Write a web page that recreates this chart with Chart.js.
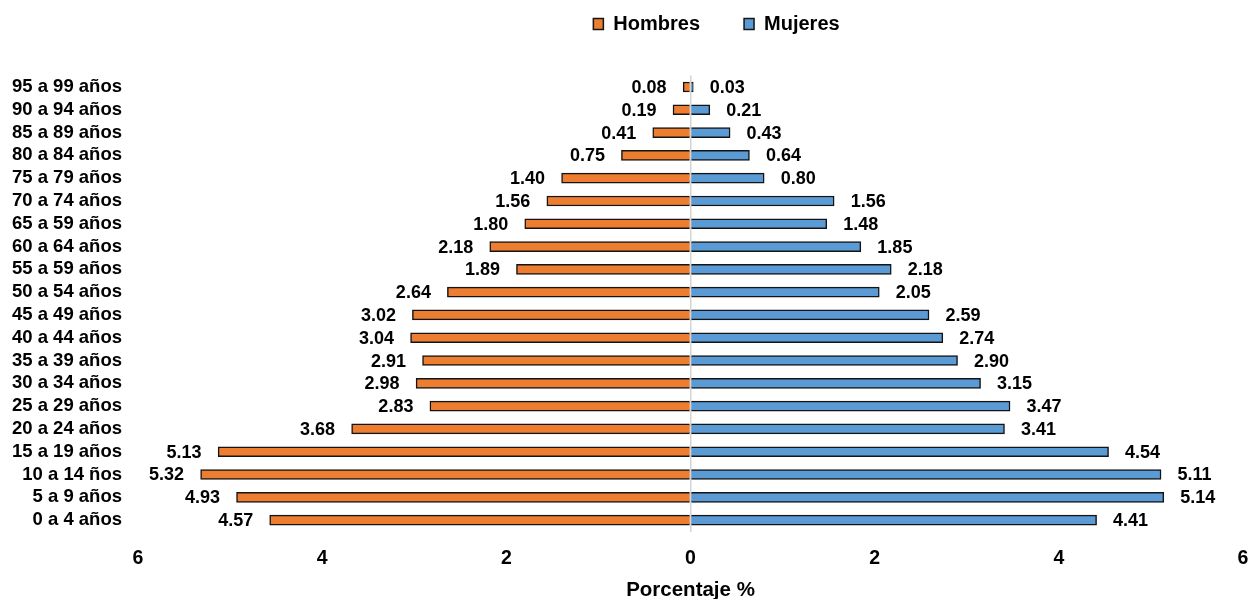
<!DOCTYPE html>
<html lang="es">
<head>
<meta charset="utf-8">
<title>Pirámide de población</title>
<script src="https://cdn.jsdelivr.net/npm/chart.js@4.4.1/dist/chart.umd.min.js"></script>
<style>
  html, body { margin: 0; padding: 0; background: #ffffff; overflow: hidden; }
  #wrap { width: 1255px; height: 599px; position: relative; }
</style>
</head>
<body>
<div id="wrap"><canvas id="chart"></canvas></div>
<script>
// Age groups, top to bottom
const grupos = [
  "95 a 99 años", "90 a 94 años", "85 a 89 años", "80 a 84 años", "75 a 79 años",
  "70 a 74 años", "65 a 59 años", "60 a 64 años", "55 a 59 años", "50 a 54 años",
  "45 a 49 años", "40 a 44 años", "35 a 39 años", "30 a 34 años", "25 a 29 años",
  "20 a 24 años", "15 a 19 años", "10 a 14 ños", "5 a 9 años", "0 a 4 años"
];

// Percentage of population per group
const hombres = [0.08, 0.19, 0.41, 0.75, 1.40, 1.56, 1.80, 2.18, 1.89, 2.64,
                 3.02, 3.04, 2.91, 2.98, 2.83, 3.68, 5.13, 5.32, 4.93, 4.57];
const mujeres = [0.03, 0.21, 0.43, 0.64, 0.80, 1.56, 1.48, 1.85, 2.18, 2.05,
                 2.59, 2.74, 2.90, 3.15, 3.47, 3.41, 4.54, 5.11, 5.14, 4.41];

const ejeX = { min: -6, max: 6, paso: 2 };
const tituloX = "Porcentaje %";

const FONT = "'Liberation Sans', Arial, Helvetica, sans-serif";

// Value labels drawn beside the end of each bar
const etiquetas = {
  id: 'etiquetas',
  afterDatasetsDraw(chart) {
    const ctx = chart.ctx;
    ctx.save();
    ctx.font = `bold 18px ${FONT}`;
    ctx.fillStyle = '#000000';
    ctx.textBaseline = 'middle';
    chart.data.datasets.forEach((ds, di) => {
      const meta = chart.getDatasetMeta(di);
      meta.data.forEach((bar, i) => {
        const v = ds.data[i];
        const txt = Math.abs(v).toFixed(2);
        if (v < 0) {
          ctx.textAlign = 'right';
          ctx.fillText(txt, bar.x - 16.5, bar.y + 1);
        } else {
          ctx.textAlign = 'left';
          ctx.fillText(txt, bar.x + 16.5, bar.y + 1);
        }
      });
    });
    ctx.restore();
  }
};

// Legend sits in a fixed band above the plot
const bandaLeyenda = {
  id: 'bandaLeyenda',
  beforeInit(chart) {
    const legend = chart.legend;
    if (!legend) return;
    const fitOrig = legend.fit;
    legend.fit = function () {
      fitOrig.call(this);
      this.height = 75.6;
    };
  },
  afterLayout(chart) {
    const legend = chart.legend;
    if (!legend) return;
    legend.left += 95;
    legend.right += 95;
    legend.top = 14 - 44;
    legend.bottom = legend.top + legend.height;
  }
};

new Chart(document.getElementById('chart'), {
  type: 'bar',
  data: {
    labels: grupos,
    datasets: [
      {
        label: 'Hombres',
        data: hombres.map(v => -v),
        backgroundColor: '#ED7D31',
        borderColor: '#141414',
        borderWidth: 1.5,
        barThickness: 10
      },
      {
        label: 'Mujeres',
        data: mujeres,
        backgroundColor: '#5B9BD5',
        borderColor: '#141414',
        borderWidth: 1.5,
        barThickness: 10
      }
    ]
  },
  options: {
    indexAxis: 'y',
    responsive: true,
    maintainAspectRatio: false,
    animation: false,
    devicePixelRatio: 1,
    layout: { padding: { left: 0, right: 12, top: 0, bottom: 0 } },
    plugins: {
      legend: {
        position: 'top',
        align: 'center',
        labels: {
          boxWidth: 10,
          boxHeight: 11,
          padding: 44,
          color: '#000000',
          font: { family: FONT, size: 20, weight: 'bold' }
        }
      },
      tooltip: { enabled: false }
    },
    scales: {
      x: {
        stacked: true,
        min: ejeX.min,
        max: ejeX.max,
        z: 1,
        border: { display: false },
        grid: {
          drawTicks: false,
          lineWidth: 1.5,
          color: ctx => (ctx.tick && ctx.tick.value === 0) ? '#d4d4d4' : 'rgba(0,0,0,0)'
        },
        ticks: {
          stepSize: ejeX.paso,
          padding: 15,
          color: '#000000',
          font: { family: FONT, size: 19.5, weight: 'bold' },
          callback: v => Math.abs(v)
        },
        title: {
          display: true,
          text: tituloX,
          color: '#000000',
          padding: { top: -4.4, bottom: -2 },
          font: { family: FONT, size: 20.5, weight: 'bold', lineHeight: 1 }
        },
        afterFit(scale) {
          scale.paddingLeft = 0;
          scale.paddingRight = 0;
        }
      },
      y: {
        stacked: true,
        border: { display: false },
        grid: { display: false, drawTicks: false },
        ticks: {
          padding: 16,
          autoSkip: false,
          color: '#000000',
          font: { family: FONT, size: 18.5, weight: 'bold' }
        },
        afterFit(scale) { scale.width = 138; }
      }
    }
  },
  plugins: [etiquetas, bandaLeyenda]
});
</script>
</body>
</html>
